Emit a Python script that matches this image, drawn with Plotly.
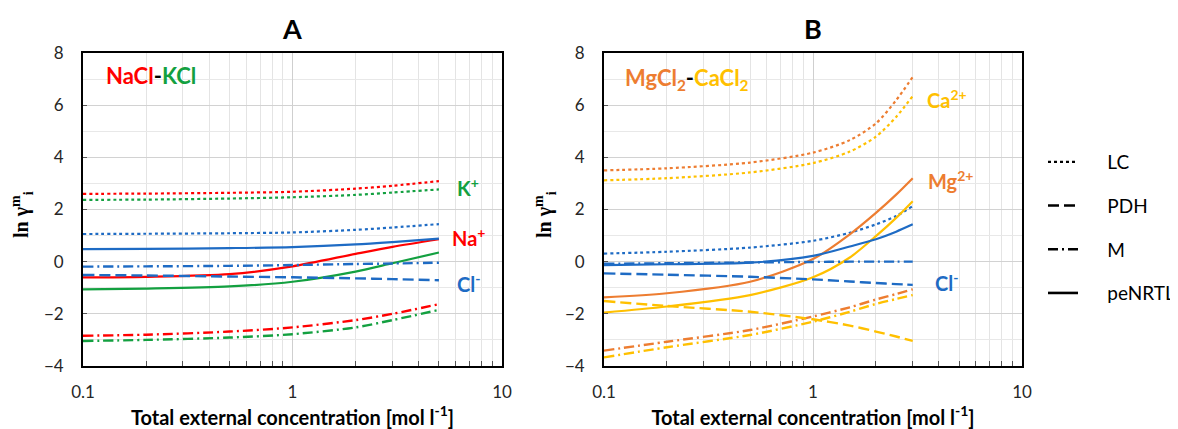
import plotly.graph_objects as go

# ---------------- data ----------------
xa = [0.1, 0.2, 0.5, 1, 2, 3, 5]
a_lc_na = [2.60, 2.61, 2.64, 2.68, 2.80, 2.91, 3.09]
a_lc_k = [2.37, 2.38, 2.42, 2.47, 2.56, 2.65, 2.77]
a_lc_cl = [1.06, 1.07, 1.09, 1.12, 1.22, 1.31, 1.44]
a_nrtl_cl = [0.48, 0.49, 0.52, 0.56, 0.66, 0.75, 0.88]
a_nrtl_na = [-0.60, -0.58, -0.48, -0.18, 0.30, 0.57, 0.86]
a_nrtl_k = [-1.06, -1.03, -0.95, -0.77, -0.38, -0.06, 0.35]
a_pdh_cl = [-0.51, -0.53, -0.57, -0.60, -0.64, -0.67, -0.71]
a_m_cl = [-0.19, -0.18, -0.16, -0.13, -0.09, -0.07, -0.04]
a_m_na = [-2.84, -2.80, -2.68, -2.52, -2.24, -2.00, -1.63]
a_m_k = [-3.04, -3.00, -2.91, -2.78, -2.52, -2.24, -1.85]

xb = [0.1, 0.2, 0.5, 1, 1.5, 2, 2.5, 3]
b_lc_mg = [3.50, 3.58, 3.80, 4.18, 4.66, 5.30, 6.19, 7.08]
b_lc_ca = [3.12, 3.20, 3.42, 3.78, 4.22, 4.79, 5.55, 6.35]
b_lc_cl = [0.31, 0.38, 0.54, 0.80, 1.11, 1.43, 1.75, 2.13]
b_nrtl_mg = [-1.37, -1.21, -0.77, 0.10, 1.05, 1.87, 2.57, 3.20]
b_nrtl_ca = [-1.95, -1.72, -1.28, -0.60, 0.16, 0.98, 1.68, 2.32]
b_nrtl_cl = [-0.13, -0.10, -0.04, 0.22, 0.58, 0.86, 1.15, 1.43]
b_m_cl = [-0.08, -0.06, -0.03, -0.01, 0.0, 0.0, 0.0, 0.0]
b_pdh_cl = [-0.45, -0.50, -0.58, -0.68, -0.76, -0.82, -0.86, -0.89]
b_pdh_ca = [-1.51, -1.70, -1.92, -2.21, -2.45, -2.68, -2.87, -3.04]
b_m_mg = [-3.41, -3.07, -2.62, -2.10, -1.75, -1.45, -1.24, -1.06]
b_m_ca = [-3.67, -3.28, -2.81, -2.30, -1.92, -1.62, -1.43, -1.28]

x_ticks = [0.1, 1, 10]
x_ticktext = ["0.1", "1", "10"]
x_minor = [0.2, 0.3, 0.4, 0.5, 0.6, 0.7, 0.8, 0.9, 2, 3, 4, 5, 6, 7, 8, 9]
y_ticks = [-4, -2, 0, 2, 4, 6, 8]

model_names = ["LC", "PDH", "M", "peNRTL"]

# ---------------- styles ----------------
RED = "#FF0000"
GREEN = "#13A040"
BLUE = "#1E6BC4"
ORANGE = "#ED7D31"
GOLD = "#FFC000"

DASH = {"LC": "dot", "PDH": "11px,5px", "M": "10px,4px,2px,4px", "peNRTL": "solid"}
WID = {"LC": 2.2, "PDH": 2.4, "M": 2.4, "peNRTL": 2.2}

# page body has an 8px margin; figure is sized/positioned to compensate
OFF = 8
W, H = 1170, 421


def px(x):
    return (x - OFF) / W


def py(y):
    return 1 - (y - OFF) / H


fig = go.Figure()


def add(x, y, color, model, xref, yref, name):
    fig.add_trace(go.Scatter(
        x=x, y=y, mode="lines", name=name, showlegend=False,
        line=dict(color=color, dash=DASH[model], width=WID[model], shape="spline", smoothing=0.8),
        xaxis=xref, yaxis=yref, hoverinfo="skip"))


# Panel A
add(xa, a_m_k, GREEN, "M", "x", "y", "M K+")
add(xa, a_m_na, RED, "M", "x", "y", "M Na+")
add(xa, a_lc_k, GREEN, "LC", "x", "y", "LC K+")
add(xa, a_lc_na, RED, "LC", "x", "y", "LC Na+")
add(xa, a_lc_cl, BLUE, "LC", "x", "y", "LC Cl-")
add(xa, a_nrtl_k, GREEN, "peNRTL", "x", "y", "peNRTL K+")
add(xa, a_nrtl_na, RED, "peNRTL", "x", "y", "peNRTL Na+")
add(xa, a_nrtl_cl, BLUE, "peNRTL", "x", "y", "peNRTL Cl-")
add(xa, a_pdh_cl, BLUE, "PDH", "x", "y", "PDH Cl-")
add(xa, a_m_cl, BLUE, "M", "x", "y", "M Cl-")

# Panel B
add(xb, b_m_ca, GOLD, "M", "x2", "y2", "M Ca2+")
add(xb, b_m_mg, ORANGE, "M", "x2", "y2", "M Mg2+")
add(xb, b_pdh_ca, GOLD, "PDH", "x2", "y2", "PDH Ca2+")
add(xb, b_lc_ca, GOLD, "LC", "x2", "y2", "LC Ca2+")
add(xb, b_lc_mg, ORANGE, "LC", "x2", "y2", "LC Mg2+")
add(xb, b_lc_cl, BLUE, "LC", "x2", "y2", "LC Cl-")
add(xb, b_nrtl_ca, GOLD, "peNRTL", "x2", "y2", "peNRTL Ca2+")
add(xb, b_nrtl_mg, ORANGE, "peNRTL", "x2", "y2", "peNRTL Mg2+")
add(xb, b_nrtl_cl, BLUE, "peNRTL", "x2", "y2", "peNRTL Cl-")
add(xb, b_pdh_cl, BLUE, "PDH", "x2", "y2", "PDH Cl-")
add(xb, b_m_cl, BLUE, "M", "x2", "y2", "M Cl-")

# Legend entries (black line styles)
for m in model_names:
    fig.add_trace(go.Scatter(
        x=[None], y=[None], mode="lines", name="     " + m, legendgroup=m,
        line=dict(color="black", dash=DASH[m], width=2.6 if m != "LC" else 2.2),
        xaxis="x2", yaxis="y2", showlegend=True))

FONT = "Lato"
TICKFONT = dict(family=FONT, size=17, color="#262626")

xcommon = dict(
    type="log", range=[-1, 1], tickmode="array", tickvals=x_ticks, ticktext=x_ticktext,
    showline=True, linecolor="black", linewidth=1.8, mirror=True,
    showgrid=True, gridcolor="#cfcfcf", gridwidth=1, zeroline=False, automargin=False,
    ticks="", tickfont=TICKFONT, ticklabelstandoff=10,
    minor=dict(tickmode="array", tickvals=x_minor, ticks="inside", ticklen=5,
               tickcolor="#555", showgrid=True, gridcolor="#e4e4e4", gridwidth=1),
    title=dict(text="<b>Total external concentration [mol l<sup>-1</sup>]</b>",
               font=dict(family=FONT, size=20, color="black"), standoff=0),
)
ycommon = dict(
    range=[-4, 8], tickmode="array", tickvals=y_ticks,
    showline=True, linecolor="black", linewidth=1.8, mirror=True,
    showgrid=True, gridcolor="#d2d2d2", gridwidth=1, zeroline=False, automargin=False,
    ticks="inside", ticklen=4, tickcolor="#555", tickfont=TICKFONT, ticklabelstandoff=14,
    minor=dict(dtick=1, showgrid=True, gridcolor="#e8e8e8", gridwidth=1, ticks=""),
)

ydom = [py(366), py(53)]
fig.update_layout(
    width=W, height=H,
    margin=dict(l=0, r=0, t=0, b=0, autoexpand=False),
    paper_bgcolor="white", plot_bgcolor="white",
    xaxis=dict(domain=[px(83), px(502)], anchor="y", **xcommon),
    yaxis=dict(domain=ydom, anchor="x", **ycommon),
    xaxis2=dict(domain=[px(604), px(1022)], anchor="y2", **xcommon),
    yaxis2=dict(domain=ydom, anchor="x2", **ycommon),
    showlegend=True,
    legend=dict(x=px(1043), y=py(143), xanchor="left", yanchor="top",
                font=dict(family=FONT, size=19, color="black"),
                tracegroupgap=16, bgcolor="rgba(0,0,0,0)", itemwidth=30),
)

ann = []
C = dict(xanchor="center", yanchor="middle", showarrow=False)
# Panel titles
ann.append(dict(text="<b>A</b>", x=px(292), y=py(29), xref="paper", yref="paper",
                font=dict(family=FONT, size=27, color="black"), **C))
ann.append(dict(text="<b>B</b>", x=px(813), y=py(29), xref="paper", yref="paper",
                font=dict(family=FONT, size=27, color="black"), **C))
# Y axis titles
for xp in [px(22), px(545)]:
    ann.append(dict(text="<b>ln γ<sup>m</sup><sub>i</sub></b>", x=xp, y=py(215),
                    xref="paper", yref="paper", textangle=-90,
                    font=dict(family="Liberation Serif", size=20, color="black"), **C))

LBL = dict(family=FONT, size=20)
# Panel A labels
ann.append(dict(text=f"<b><span style='color:{RED}'>NaCl</span>-<span style='color:{GREEN}'>KCl</span></b>",
                x=-0.9, y=7.15, xref="x", yref="y", xanchor="left", yanchor="middle", showarrow=False,
                font=dict(family=FONT, size=22, color="black")))
ann.append(dict(text="<b>K<sup>+</sup></b>", x=0.84, y=2.86, xref="x", yref="y",
                font=dict(color=GREEN, **LBL), **C))
ann.append(dict(text="<b>Na<sup>+</sup></b>", x=0.84, y=0.95, xref="x", yref="y",
                font=dict(color=RED, **LBL), **C))
ann.append(dict(text="<b>Cl<sup>-</sup></b>", x=0.84, y=-0.82, xref="x", yref="y",
                font=dict(color=BLUE, **LBL), **C))
# Panel B labels
ann.append(dict(text=f"<b><span style='color:{ORANGE}'>MgCl<sub>2</sub></span>-<span style='color:{GOLD}'>CaCl<sub>2</sub></span></b>",
                x=-0.91, y=7.0, xref="x2", yref="y2", xanchor="left", yanchor="middle", showarrow=False,
                font=dict(family=FONT, size=22, color="black")))
ann.append(dict(text="<b>Ca<sup>2+</sup></b>", x=0.64, y=6.24, xref="x2", yref="y2",
                font=dict(color=GOLD, **LBL), **C))
ann.append(dict(text="<b>Mg<sup>2+</sup></b>", x=0.66, y=3.13, xref="x2", yref="y2",
                font=dict(color=ORANGE, **LBL), **C))
ann.append(dict(text="<b>Cl<sup>-</sup></b>", x=0.64, y=-0.78, xref="x2", yref="y2",
                font=dict(color=BLUE, **LBL), **C))

fig.update_layout(annotations=ann)
fig.write_html("out.html")
